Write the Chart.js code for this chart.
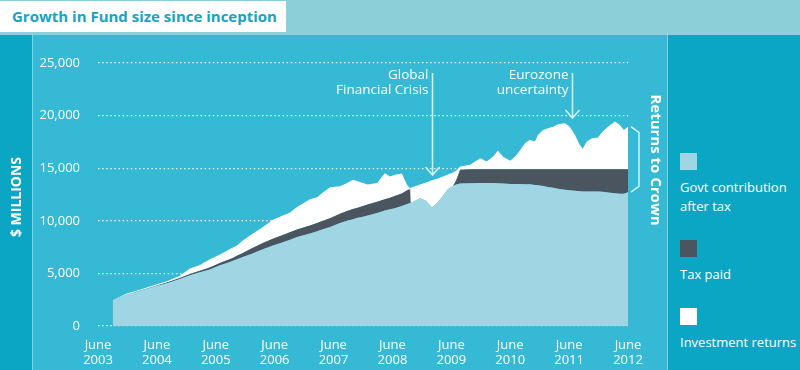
<!DOCTYPE html>
<html>
<head>
<meta charset="utf-8">
<script src="https://cdn.jsdelivr.net/npm/chart.js@4.4.0/dist/chart.umd.min.js"></script>
<style>
  body { margin: 0; width: 800px; height: 370px; overflow: hidden; position: relative;
         background: #8ccfd9; font-family: "Open Sans", sans-serif; }
  #title { position: absolute; left: 0; top: 1px; width: 286px; height: 31px; background: #fff; }
  #title span { position: absolute; left: 12px; top: 5px; font-weight: bold; font-size: 15px; color: #17a3c4; }
  #leftcol { position: absolute; left: 0; top: 35px; width: 32px; height: 335px; background: #0ba6c4; border-right: 1px solid #7fd2e2; }
  #main { position: absolute; left: 33px; top: 35px; width: 634px; height: 335px; background: #35b9d5; }
  #rightcol { position: absolute; left: 667px; top: 35px; width: 132px; height: 335px; background: #0ba6c4; border-left: 1px solid #7fd2e2; }
  #chart { position: absolute; left: 0; top: 0; }
  .swatch { position: absolute; left: 680px; width: 17px; height: 17px; }
  .lbl { position: absolute; left: 680px; color: #fff; font-size: 13px; line-height: 19px; }
</style>
</head>
<body>
<div id="title"><span>Growth in Fund size since inception</span></div>
<div id="leftcol"></div>
<div id="main"></div>
<div id="rightcol"></div>
<div id="legend"></div>
<canvas id="chart" width="800" height="370"></canvas>
<script>
// dates as decimal years (Sept 2003 .. June 2012)
var months = [2003.75, 2003.99, 2004.21, 2004.43, 2004.67, 2004.89, 2005.06, 2005.23, 2005.40, 2005.57,
  2005.69, 2005.78, 2005.86, 2005.96, 2006.08, 2006.30, 2006.47, 2006.64, 2006.76, 2006.88,
  2007.10, 2007.22, 2007.32, 2007.44, 2007.61, 2007.73, 2007.83, 2007.91, 2008.00, 2008.08,
  2008.24, 2008.37, 2008.46, 2008.54, 2008.66, 2008.75, 2008.80, 2008.81, 2008.97, 2009.07,
  2009.17, 2009.26, 2009.36, 2009.44, 2009.53, 2009.58, 2009.65, 2009.82, 2009.99, 2010.10,
  2010.21, 2010.29, 2010.38, 2010.50, 2010.58, 2010.67, 2010.75, 2010.83, 2010.92, 2010.97,
  2011.06, 2011.14, 2011.23, 2011.31, 2011.43, 2011.51, 2011.60, 2011.68, 2011.73, 2011.80,
  2011.89, 2011.99, 2012.07, 2012.16, 2012.28, 2012.36, 2012.43, 2012.50];

var govtAfterTax = [2470, 2990, 3330, 3700, 4070, 4475, 4830, 5100, 5380, 5770,
  6000, 6170, 6350, 6550, 6800, 7300, 7650, 7950, 8200, 8450,
  8800, 9000, 9200, 9400, 9800, 10000, 10150, 10280, 10375, 10500,
  10750, 10980, 11100, 11200, 11400, 11600, 11700, 11700, 12150, 11900,
  11270, 11700, 12400, 13000, 13300, 13450, 13550, 13580, 13600, 13600,
  13600, 13580, 13550, 13500, 13500, 13500, 13480, 13480, 13400, 13380,
  13300, 13220, 13150, 13050, 12950, 12900, 12850, 12800, 12780, 12780,
  12780, 12780, 12750, 12700, 12630, 12560, 12560, 12720];

var taxPaid = [0, 10, 20, 40, 60, 85, 120, 150, 180, 210,
  240, 270, 330, 380, 500, 600, 650, 700, 700, 730,
  760, 780, 800, 850, 870, 920, 970, 970, 1025, 1050,
  1050, 1070, 1100, 1150, 1200, 1300, 1300, 0, 0, 0,
  0, 0, 0, 0, 0, 350, 1300, 1320, 1300, 1300,
  1300, 1320, 1350, 1400, 1400, 1400, 1420, 1420, 1500, 1520,
  1600, 1680, 1750, 1850, 1950, 2000, 2050, 2100, 2120, 2120,
  2120, 2120, 2150, 2200, 2270, 2340, 2340, 2180];

var investmentReturns = [0, 90, 100, 120, 130, 220, 520, 550, 790, 820,
  910, 1010, 970, 1195, 1300, 1500, 1800, 1850, 1880, 2120,
  2490, 2470, 2700, 2950, 2610, 2680, 2780, 2500, 2200, 1890,
  1800, 2480, 2020, 2020, 1900, 500, 100, 1450, 1300, 1750,
  2580, 2300, 1800, 1400, 1300, 950, 310, 420, 1050, 730,
  1210, 1750, 1200, 800, 1200, 1840, 2470, 2790, 2630, 3260,
  3740, 3900, 4050, 4280, 4370, 4050, 3260, 2320, 1940, 2630,
  2950, 3010, 3580, 4050, 4530, 4210, 3740, 4050];

var tickYears = [2003, 2004, 2005, 2006, 2007, 2008, 2009, 2010, 2011, 2012];
var yTicks = [0, 5000, 10000, 15000, 20000, 25000];

var seriesNames = ['Govt contribution after tax', 'Tax paid', 'Investment returns'];
var seriesColors = ['#a0d5e4', '#4b5560', '#ffffff'];

// events marked with arrows
var eventNames = [['Global', 'Financial Crisis'], ['Eurozone', 'uncertainty']];
var eventDates = [2009.17, 2011.55];
var eventTips = [14350, 19770];
var arrowTopValue = 24050;

function pts(vals) {
  return vals.map(function (v, i) { return { x: months[i], y: v }; });
}

var font = '"Open Sans", sans-serif';

var notes = {
  id: 'notes',
  afterDatasetsDraw: function (chart) {
    var ctx = chart.ctx, x = chart.scales.x, y = chart.scales.y;
    ctx.save();
    ctx.strokeStyle = '#d6f2f8';
    ctx.lineWidth = 1.5;
    ctx.fillStyle = '#ffffff';
    ctx.font = '13.5px ' + font;
    ctx.textAlign = 'right';
    ctx.textBaseline = 'middle';
    for (var i = 0; i < eventNames.length; i++) {
      var px = Math.round(x.getPixelForValue(eventDates[i])) + 0.5;
      var top = y.getPixelForValue(arrowTopValue);
      var tip = y.getPixelForValue(eventTips[i]);
      ctx.beginPath();
      ctx.moveTo(px, top);
      ctx.lineTo(px, tip);
      ctx.moveTo(px - 7, tip - 8);
      ctx.lineTo(px, tip);
      ctx.lineTo(px + 7, tip - 8);
      ctx.stroke();
      for (var j = 0; j < eventNames[i].length; j++) {
        ctx.fillText(eventNames[i][j], px - 4, top + 2 + j * 15);
      }
    }

    // bracket for returns to crown
    var last = months.length - 1;
    var xe = x.getPixelForValue(months[last]);
    var yt = y.getPixelForValue(govtAfterTax[last] + taxPaid[last] + investmentReturns[last]);
    var yb = y.getPixelForValue(govtAfterTax[last]);
    ctx.beginPath();
    ctx.moveTo(xe + 3, yt);
    ctx.lineTo(xe + 11, yt + 6);
    ctx.lineTo(xe + 11, yb - 6);
    ctx.lineTo(xe + 3, yb);
    ctx.stroke();

    ctx.font = 'bold 15px ' + font;
    ctx.textAlign = 'center';
    ctx.translate(xe + 27, 160);
    ctx.rotate(Math.PI / 2);
    ctx.fillText('Returns to Crown', 0, 0);
    ctx.restore();

    ctx.save();
    ctx.fillStyle = '#ffffff';
    ctx.font = 'bold 14px ' + font;
    ctx.textAlign = 'center';
    ctx.textBaseline = 'middle';
    ctx.translate(17, 197);
    ctx.rotate(-Math.PI / 2);
    ctx.fillText('$ MILLIONS', 0, 0);
    ctx.restore();
  }
};

var chart = new Chart(document.getElementById('chart'), {
  type: 'line',
  data: {
    datasets: [
      { label: seriesNames[0], data: pts(govtAfterTax), backgroundColor: seriesColors[0], fill: 'origin' },
      { label: seriesNames[1], data: pts(taxPaid), backgroundColor: seriesColors[1], fill: '-1' },
      { label: seriesNames[2], data: pts(investmentReturns), backgroundColor: seriesColors[2], fill: '-1' }
    ]
  },
  options: {
    responsive: false,
    animation: false,
    devicePixelRatio: 1,
    layout: { padding: { left: 0, right: 172, top: 63, bottom: 0 } },
    elements: {
      line: { borderWidth: 0, tension: 0 },
      point: { radius: 0 }
    },
    plugins: { legend: { display: false }, tooltip: { enabled: false } },
    scales: {
      x: {
        type: 'linear',
        min: 2003.5,
        max: 2012.5,
        afterFit: function (s) { s.height = 44; },
        afterBuildTicks: function (s) {
          s.ticks = tickYears.map(function (t) { return { value: t + 0.5 }; });
        },
        grid: { display: false },
        border: { display: false },
        ticks: {
          color: '#ffffff',
          padding: 3,
          maxRotation: 0,
          autoSkip: false,
          font: { family: font, size: 13, lineHeight: 1.2 },
          callback: function (v) { return ['June', String(Math.floor(v))]; }
        }
      },
      y: {
        stacked: true,
        min: 0,
        max: 25000,
        afterFit: function (s) { s.width = 98; },
        afterBuildTicks: function (s) {
          s.ticks = yTicks.map(function (t) { return { value: t }; });
        },
        grid: { color: 'rgba(255,255,255,0.9)', lineWidth: 1.3, drawTicks: false },
        border: { display: false, dash: [1.5, 2.6] },
        ticks: {
          color: '#ffffff',
          padding: 18,
          font: { family: font, size: 13 },
          callback: function (v) { return v.toLocaleString('en-US'); }
        }
      }
    }
  },
  plugins: [notes]
});

// legend in the right column
var legend = document.getElementById('legend');
var legendTops = [153, 240, 308];
var legendLines = [['Govt contribution', 'after tax'], ['Tax paid'], ['Investment returns']];
chart.data.datasets.forEach(function (ds, i) {
  var sw = document.createElement('div');
  sw.className = 'swatch';
  sw.style.top = legendTops[i] + 'px';
  sw.style.background = ds.backgroundColor;
  legend.appendChild(sw);
  var lb = document.createElement('div');
  lb.className = 'lbl';
  lb.style.top = (legendTops[i] + 25) + 'px';
  lb.innerHTML = legendLines[i].join('<br>');
  legend.appendChild(lb);
});
</script>
</body>
</html>
